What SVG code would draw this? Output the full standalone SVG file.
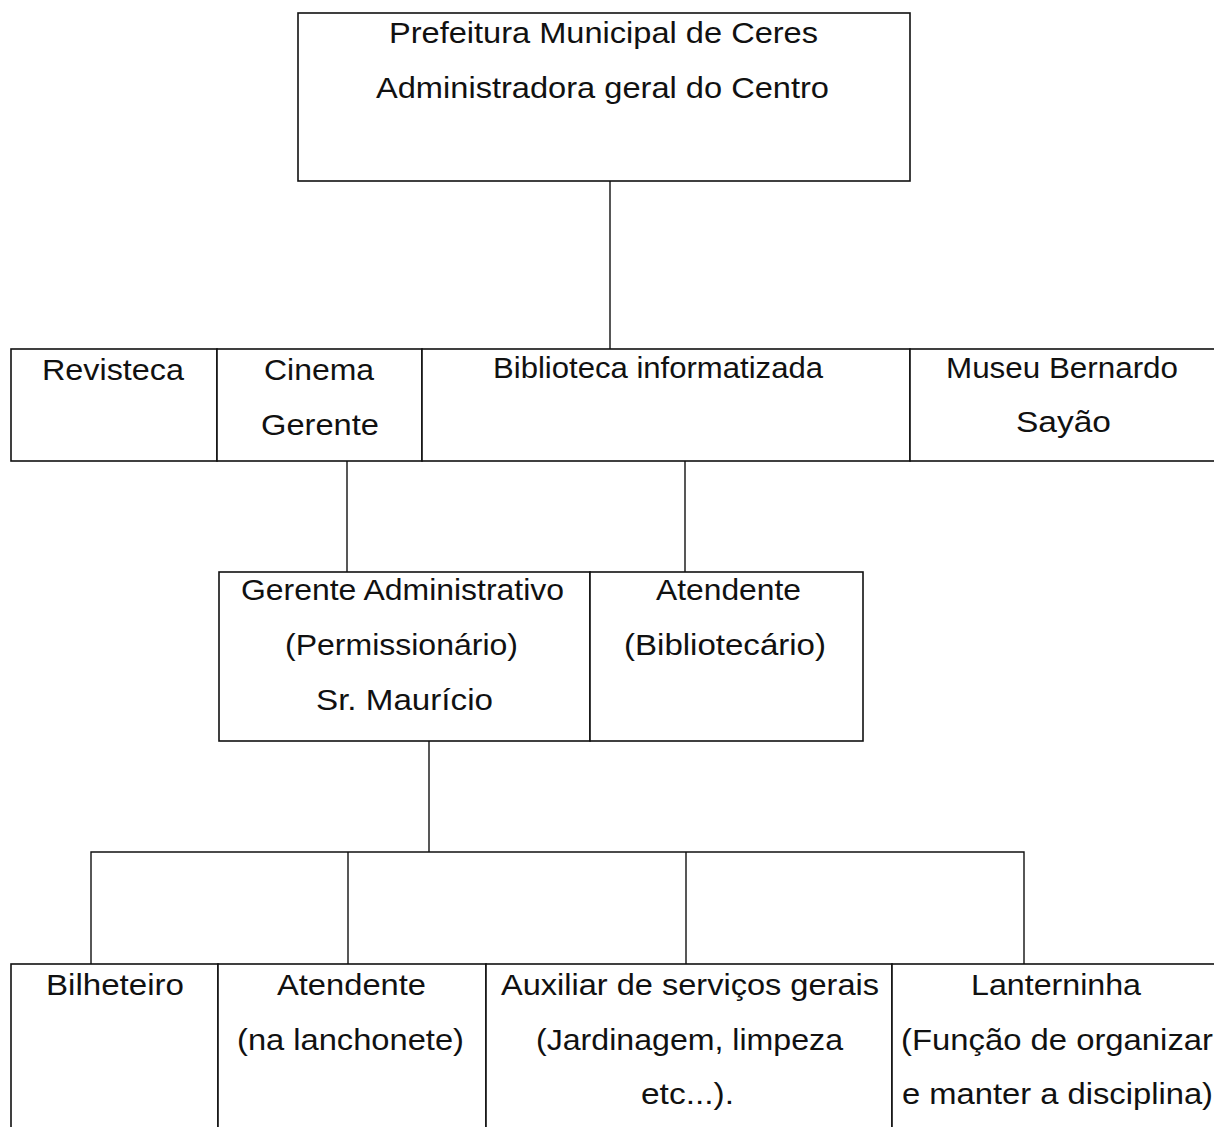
<svg xmlns="http://www.w3.org/2000/svg" width="1214" height="1127" viewBox="0 0 1214 1127">
<style>
.box{fill:#fff;stroke:#111;stroke-width:1.6}
.ln{stroke:#111;stroke-width:1.4;fill:none}
.t{font-family:"Liberation Sans",Arial,sans-serif;font-size:30px;fill:#111;text-anchor:middle}
</style>
<rect width="1214" height="1127" fill="#fff"/>
<g id="connectors">
<line class="ln" x1="610" y1="181" x2="610" y2="349"/>
<line class="ln" x1="347" y1="461" x2="347" y2="572"/>
<line class="ln" x1="685" y1="461" x2="685" y2="572"/>
<line class="ln" x1="429" y1="741" x2="429" y2="852"/>
<polyline class="ln" points="91,964 91,852 1024,852 1024,964"/>
<line class="ln" x1="348" y1="852" x2="348" y2="964"/>
<line class="ln" x1="686" y1="852" x2="686" y2="964"/>
</g>
<g id="prefeitura">
<rect class="box" x="298" y="13" width="612" height="168"/>
<text class="t" x="603.5" y="43" textLength="429" lengthAdjust="spacingAndGlyphs">Prefeitura Municipal de Ceres</text>
<text class="t" x="602.5" y="98" textLength="453" lengthAdjust="spacingAndGlyphs">Administradora geral do Centro</text>
</g>
<g id="revisteca">
<rect class="box" x="11" y="349" width="206" height="112"/>
<text class="t" x="113" y="380" textLength="142" lengthAdjust="spacingAndGlyphs">Revisteca</text>
</g>
<g id="cinema">
<rect class="box" x="217" y="349" width="205" height="112"/>
<text class="t" x="319" y="380" textLength="110" lengthAdjust="spacingAndGlyphs">Cinema</text>
<text class="t" x="320" y="435" textLength="118" lengthAdjust="spacingAndGlyphs">Gerente</text>
</g>
<g id="biblioteca">
<rect class="box" x="422" y="349" width="488" height="112"/>
<text class="t" x="658" y="378" textLength="330" lengthAdjust="spacingAndGlyphs">Biblioteca informatizada</text>
</g>
<g id="museu">
<rect class="box" x="910" y="349" width="310" height="112"/>
<text class="t" x="1062" y="378" textLength="232" lengthAdjust="spacingAndGlyphs">Museu Bernardo</text>
<text class="t" x="1063.5" y="432" textLength="95" lengthAdjust="spacingAndGlyphs">Sayão</text>
</g>
<g id="gerente-administrativo">
<rect class="box" x="219" y="572" width="371" height="169"/>
<text class="t" x="402.5" y="600" textLength="323" lengthAdjust="spacingAndGlyphs">Gerente Administrativo</text>
<text class="t" x="401.5" y="655" textLength="233" lengthAdjust="spacingAndGlyphs">(Permissionário)</text>
<text class="t" x="404.5" y="710" textLength="177" lengthAdjust="spacingAndGlyphs">Sr. Maurício</text>
</g>
<g id="atendente-bibliotecario">
<rect class="box" x="590" y="572" width="273" height="169"/>
<text class="t" x="728.5" y="600" textLength="145" lengthAdjust="spacingAndGlyphs">Atendente</text>
<text class="t" x="725" y="655" textLength="202" lengthAdjust="spacingAndGlyphs">(Bibliotecário)</text>
</g>
<g id="bilheteiro">
<rect class="box" x="11" y="964" width="207" height="180"/>
<text class="t" x="115" y="995" textLength="138" lengthAdjust="spacingAndGlyphs">Bilheteiro</text>
</g>
<g id="atendente-lanchonete">
<rect class="box" x="218" y="964" width="268" height="180"/>
<text class="t" x="351.5" y="995" textLength="149" lengthAdjust="spacingAndGlyphs">Atendente</text>
<text class="t" x="350.5" y="1050" textLength="227" lengthAdjust="spacingAndGlyphs">(na lanchonete)</text>
</g>
<g id="auxiliar">
<rect class="box" x="486" y="964" width="406" height="180"/>
<text class="t" x="690" y="995" textLength="378" lengthAdjust="spacingAndGlyphs">Auxiliar de serviços gerais</text>
<text class="t" x="689.5" y="1050" textLength="307" lengthAdjust="spacingAndGlyphs">(Jardinagem, limpeza</text>
<text class="t" x="687.5" y="1104" textLength="93" lengthAdjust="spacingAndGlyphs">etc...).</text>
</g>
<g id="lanterninha">
<rect class="box" x="892" y="964" width="330" height="180"/>
<text class="t" x="1056" y="995" textLength="170" lengthAdjust="spacingAndGlyphs">Lanterninha</text>
<text class="t" x="1057" y="1050" textLength="312" lengthAdjust="spacingAndGlyphs">(Função de organizar</text>
<text class="t" x="1057.5" y="1104" textLength="311" lengthAdjust="spacingAndGlyphs">e manter a disciplina)</text>
</g>
</svg>
